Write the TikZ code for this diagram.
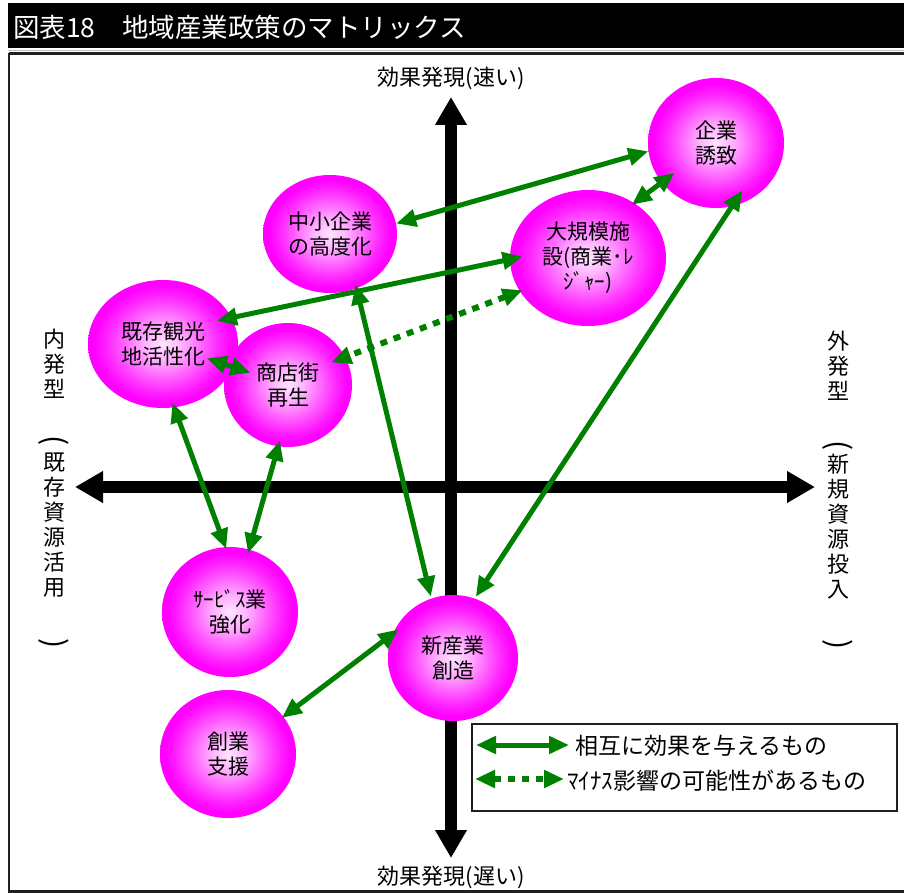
\documentclass[tikz,border=0pt]{standalone}
\usepackage{fontspec}
\setmainfont{Noto Sans CJK JP}
\usetikzlibrary{arrows.meta,shapes.geometric,calc}
\definecolor{ballin}{RGB}{255,228,255}
\definecolor{ballmid}{RGB}{255,180,255}
\definecolor{ballmid2}{RGB}{255,100,255}
\definecolor{ballmid3}{RGB}{255,35,255}
\definecolor{ballout}{RGB}{255,0,255}
\definecolor{arrgreen}{RGB}{0,128,0}
\pgfdeclareradialshading{ballshade}{\pgfpoint{0bp}{0bp}}{color(0bp)=(ballin); color(6bp)=(ballmid); color(13bp)=(ballmid2); color(19bp)=(ballmid3); color(23bp)=(ballout); color(50bp)=(ballout)}
\tikzset{
  ball/.style={ellipse, shading=ballshade, inner sep=0pt, align=center, text=black,
    font=\fontsize{21}{25}\selectfont},
  biarrow/.style={draw=arrgreen, line width=5pt,
    {Triangle[length=20pt,width=17pt]}-{Triangle[length=20pt,width=17pt]}},
  dotarrow/.style={biarrow, dash pattern=on 7pt off 7pt, line width=6pt},
  axisarrow/.style={draw=black, line width=12pt,
    {Triangle[length=28pt,width=30pt]}-{Triangle[length=28pt,width=30pt]}},
  lab/.style={font=\fontsize{22}{25}\selectfont, inner sep=0pt, text=black},
  leglab/.style={font=\fontsize{23}{25}\selectfont, inner sep=0pt, text=black, anchor=west},
  sidelab/.style={font=\fontsize{22}{25}\selectfont, inner sep=0pt, align=center, text=black},
  paren/.style={font=\fontsize{30}{30}\selectfont, inner sep=0pt, rotate=-90, text=black},
}
\begin{document}
\begin{tikzpicture}[x=1pt,y=-1pt]
\useasboundingbox (0,0) rectangle (904,893);
\fill[white] (0,0) rectangle (904,893);
% title bar
\fill[black] (8,3) rectangle (904,48);
\node[anchor=west, text=white, inner sep=0pt, font=\fontsize{26.5}{30}\selectfont] (title) at (13,27) {図表18　地域産業政策のマトリックス};
\draw[black!25, line width=1.5pt] (8,50.5) -- (904,50.5);
\draw[black!88, line width=2.2pt] (9,53.5) -- (912,53.5);
\draw[black!88, line width=2.2pt] (9,53.5) -- (9,891.5) -- (912,891.5);
% axes
\coordinate (vtop) at (451,97);
\coordinate (vbot) at (451,858);
\coordinate (hl) at (75,487);
\coordinate (hr) at (815,487);
\draw[axisarrow] (vbot) -- (vtop);
\draw[axisarrow] (hl) -- (hr);
\node[lab] (fast) at (451,78) {効果発現(速い)};
\node[lab] (slow) at (451,877) {効果発現(遅い)};
% side labels
\node[sidelab] (inner1) at (54,364) {内\\発\\型};
\node[paren] (lp1) at (54,441) {(};
\node[sidelab] (inner2) at (54,525) {既\\存\\資\\源\\活\\用};
\node[paren] (rp1) at (54,644) {)};
\node[sidelab] (outer1) at (838,366) {外\\発\\型};
\node[paren] (lp2) at (838,446) {(};
\node[sidelab] (outer2) at (838,526.5) {新\\規\\資\\源\\投\\入};
\node[paren] (rp2) at (838,645) {)};
% circles
\node[ball, minimum width=136pt, minimum height=130pt] (kigyo) at (716,143) {企業\\誘致};
\node[ball, minimum width=134pt, minimum height=118pt] (chusho) at (330,234) {中小企業\\の高度化};
\node[ball, minimum width=156pt, minimum height=136pt] (daikibo) at (588,258) {大規模施\\設(商業･ﾚ\\ｼﾞｬｰ)};
\node[ball, minimum width=150pt, minimum height=128pt] (kizon) at (163,344) {既存観光\\地活性化};
\node[ball, minimum width=128pt, minimum height=124pt] (shoten) at (288,385) {商店街\\再生};
\node[ball, minimum width=136pt, minimum height=130pt] (service) at (230,612) {ｻｰﾋﾞｽ業\\強化};
\node[ball, minimum width=130pt, minimum height=126pt] (shin) at (453,658) {新産業\\創造};
\node[ball, minimum width=136pt, minimum height=128pt] (sogyo) at (228,754) {創業\\支援};
% connectors
\draw[biarrow] (chusho.9) -- (kigyo.187);
\draw[biarrow, shorten <=-3pt, shorten >=-16pt] (daikibo.50) -- (kigyo.216);
\draw[biarrow, shorten <=-13pt, shorten >=-15pt] (daikibo.181) -- (kizon.21);
\draw[dotarrow, shorten <=-3pt, shorten >=-15pt] (daikibo.206) -- (shoten.26);
\draw[biarrow] ($(kizon.center)!0.35!(shoten.center)$) -- ($(kizon.center)!0.70!(shoten.center)$);
\draw[biarrow, shorten <=-5pt, shorten >=-2pt] (kizon.280) -- (service.94);
\draw[biarrow, shorten <=-6pt, shorten >=-4pt] (shoten.261) -- (service.73);
\draw[biarrow, shorten <=-4pt, shorten >=2pt] (chusho.296) -- (shin.110);
\draw[biarrow, shorten <=-19pt, shorten >=2pt] (kigyo.284) -- (shin.70);
\draw[biarrow, shorten <=-2pt, shorten >=-7pt] (sogyo.34) -- (shin.158);
% legend
\draw[black!88, line width=2pt] (472,724) rectangle (897,811);
\coordinate (la1) at (476,745);
\coordinate (lb1) at (569,745);
\coordinate (la2) at (475,779);
\coordinate (lb2) at (564,779);
\draw[biarrow] (la1) -- (lb1);
\draw[dotarrow] (la2) -- (lb2);
\node[leglab] (leg1) at (575,746) {相互に効果を与えるもの};
\node[leglab] (leg2) at (567,781) {ﾏｲﾅｽ影響の可能性があるもの};
\end{tikzpicture}
\end{document}
